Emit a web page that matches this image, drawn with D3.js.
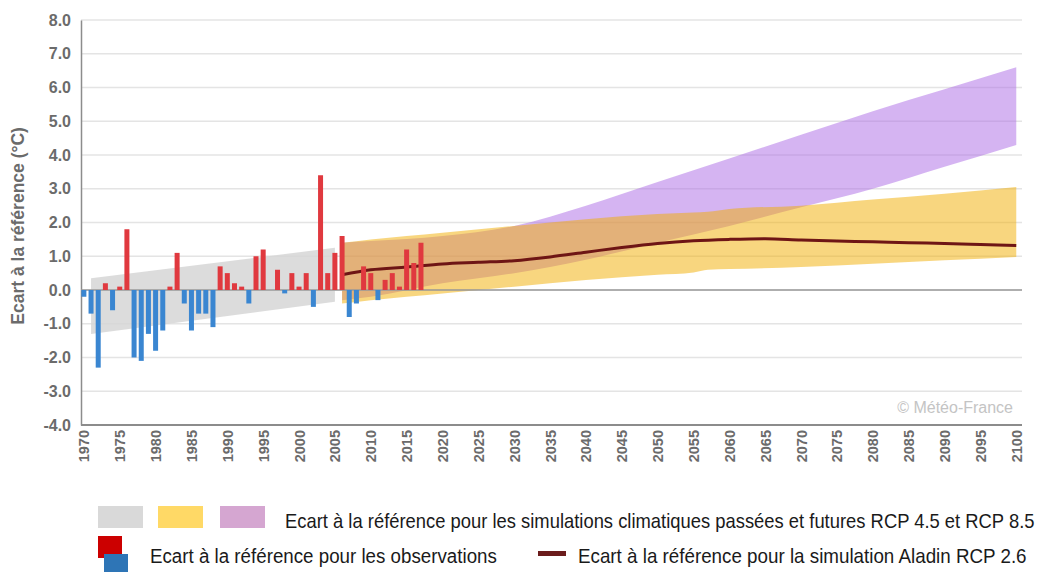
<!DOCTYPE html>
<html lang="fr">
<head>
  <meta charset="UTF-8">
  <title>Ecart à la référence</title>
  <script src="https://d3js.org/d3.v7.min.js"></script>
  <style>
    body { margin: 0; padding: 0; background: #fff; }
    svg { display: block; }
  </style>
</head>
<body>
  <svg id="chart" width="1040" height="572"></svg>
  <script>
    // Observations (écart annuel, °C)
    const obsYears = d3.range(1970, 2018);
    const obsValues = [-0.2, -0.7, -2.3, 0.2, -0.6, 0.1, 1.8, -2.0, -2.1, -1.3,
      -1.8, -1.2, 0.1, 1.1, -0.4, -1.2, -0.7, -0.7, -1.1, 0.7,
      0.5, 0.2, 0.1, -0.4, 1.0, 1.2, 0.0, 0.6, -0.1, 0.5,
      0.1, 0.5, -0.5, 3.4, 0.5, 1.1, 1.6, -0.8, -0.4, 0.7,
      0.5, -0.3, 0.3, 0.5, 0.1, 1.2, 0.8, 1.4];

    // Simulations passées (enveloppe grise)
    const pastYears = [1971, 2005];
    const pastLow = [-1.3, -0.35];
    const pastHigh = [0.35, 1.25];

    // RCP 4.5 (jaune)
    const rcp45Years = [2006, 2010, 2020, 2030, 2040, 2050, 2055, 2057, 2060, 2070, 2080, 2090, 2100];
    const rcp45Low = [-0.4, -0.3, -0.1, 0.1, 0.3, 0.45, 0.52, 0.6, 0.62, 0.68, 0.78, 0.88, 0.98];
    const rcp45High = [1.4, 1.5, 1.7, 1.9, 2.1, 2.25, 2.3, 2.32, 2.4, 2.5, 2.68, 2.85, 3.05];

    // RCP 8.5 (violet)
    const rcp85Years = [2006, 2010, 2020, 2030, 2040, 2050, 2060, 2070, 2080, 2090, 2100];
    const rcp85Low = [-0.3, -0.2, 0.2, 0.5, 0.9, 1.4, 1.9, 2.45, 3.0, 3.65, 4.3];
    const rcp85High = [1.4, 1.45, 1.6, 1.9, 2.5, 3.2, 3.9, 4.6, 5.3, 5.95, 6.6];

    // Simulation Aladin RCP 2.6
    const aladinYears = [2006, 2010, 2015, 2020, 2025, 2030, 2035, 2040, 2045, 2050,
      2055, 2060, 2065, 2070, 2075, 2080, 2085, 2090, 2095, 2100];
    const aladinValues = [0.45, 0.6, 0.68, 0.77, 0.82, 0.87, 0.98, 1.12, 1.26, 1.38,
      1.46, 1.5, 1.52, 1.48, 1.45, 1.43, 1.4, 1.38, 1.35, 1.32];

    const yTicks = d3.range(-4, 8.1, 1);
    const xTicks = d3.range(1970, 2101, 5);

    const svg = d3.select('#chart');
    const plotLeft = 81, plotRight = 1022, plotTop = 20, plotBottom = 425;

    const x = d3.scaleLinear().domain([1969.6, 2100.8]).range([plotLeft, plotRight]);
    const y = d3.scaleLinear().domain([-4, 8]).range([plotBottom, plotTop]);

    const font = 'Arial, "Liberation Sans", sans-serif';
    const axisGrey = '#6b6b6b';

    // grille
    svg.append('g')
      .selectAll('line')
      .data(yTicks.filter(d => d > -4))
      .enter().append('line')
      .attr('x1', plotLeft).attr('x2', plotRight)
      .attr('y1', d => y(d)).attr('y2', d => y(d))
      .attr('stroke', '#e4e4e4')
      .attr('stroke-width', 1.5);

    // axe Y
    const fmt = d => d.toFixed(1);
    const yAxis = svg.append('g')
      .attr('transform', `translate(${plotLeft},0)`)
      .call(d3.axisLeft(y).tickValues(yTicks).tickSize(0).tickPadding(10).tickFormat(fmt));
    yAxis.select('.domain').attr('stroke', '#8c8c8c').attr('stroke-width', 1.5);
    yAxis.selectAll('text')
      .attr('font-family', font).attr('font-size', 16).attr('font-weight', 'bold').attr('fill', axisGrey);

    svg.append('text')
      .attr('transform', `translate(24,${y(1.9)}) rotate(-90)`)
      .attr('text-anchor', 'middle')
      .attr('font-family', font).attr('font-size', 17.5).attr('font-weight', 'bold')
      .attr('fill', axisGrey)
      .text('Ecart à la référence (°C)');

    // enveloppes
    const area = d3.area().x(d => x(d.year)).y0(d => y(d.low)).y1(d => y(d.high));
    const band = (years, low, high) => years.map((yr, i) => ({ year: yr, low: low[i], high: high[i] }));

    svg.append('path')
      .datum(band(pastYears, pastLow, pastHigh))
      .attr('d', area)
      .attr('fill', '#d6d6d6').attr('fill-opacity', 0.85);

    svg.append('path')
      .datum(band(rcp85Years, rcp85Low, rcp85High))
      .attr('d', area.curve(d3.curveMonotoneX))
      .attr('fill', 'rgb(172,106,230)').attr('fill-opacity', 0.5);

    svg.append('path')
      .datum(band(rcp45Years, rcp45Low, rcp45High))
      .attr('d', area.curve(d3.curveMonotoneX))
      .attr('fill', 'rgb(242,174,0)').attr('fill-opacity', 0.5);

    // ligne zéro
    svg.append('line')
      .attr('x1', plotLeft).attr('x2', plotRight)
      .attr('y1', y(0)).attr('y2', y(0))
      .attr('stroke', '#9a9a9a').attr('stroke-width', 1.5);

    // Aladin
    const line = d3.line().x((d, i) => x(aladinYears[i])).y(d => y(d)).curve(d3.curveMonotoneX);
    svg.append('path')
      .datum(aladinValues)
      .attr('d', line)
      .attr('fill', 'none')
      .attr('stroke', '#6e1515').attr('stroke-width', 3);

    // barres observations
    const barW = 5;
    svg.append('g')
      .selectAll('rect')
      .data(obsValues)
      .enter().append('rect')
      .attr('x', (d, i) => x(obsYears[i]) - barW / 2)
      .attr('y', d => y(Math.max(0, d)))
      .attr('width', barW)
      .attr('height', d => Math.abs(y(d) - y(0)))
      .attr('fill', d => d >= 0 ? '#e0393f' : '#3a86d1');

    // axe X
    svg.append('line')
      .attr('x1', plotLeft).attr('x2', plotRight)
      .attr('y1', plotBottom).attr('y2', plotBottom)
      .attr('stroke', '#8c8c8c').attr('stroke-width', 2);

    svg.append('g')
      .selectAll('text')
      .data(xTicks)
      .enter().append('text')
      .attr('transform', d => `translate(${x(d) + 5.5},430) rotate(-90)`)
      .attr('text-anchor', 'end')
      .attr('font-family', font).attr('font-size', 14.5).attr('font-weight', 'bold')
      .attr('fill', axisGrey)
      .text(d => d);

    // filigrane
    svg.append('text')
      .attr('x', 1013).attr('y', 413)
      .attr('text-anchor', 'end')
      .attr('font-family', font).attr('font-size', 16)
      .attr('fill', '#c4c4c4')
      .text('© Météo-France');

    // légende (texte condensé : mis à l'échelle horizontalement)
    const legFont = '"Liberation Sans Narrow", "Arial Narrow", "Liberation Sans", sans-serif';
    const lg = svg.append('g');
    const legendText = (tx, ty, width, label) => {
      const t = lg.append('text')
        .attr('font-family', legFont).attr('font-size', 20).attr('fill', '#1a1a1a')
        .text(label);
      const natural = t.node().getComputedTextLength();
      t.attr('transform', `translate(${tx},${ty}) scale(${width / natural},1)`);
    };

    [['#d9d9d9', 98], ['#ffd966', 158], ['#d5a6d1', 220]].forEach(([c, lx]) => {
      lg.append('rect').attr('x', lx).attr('y', 506).attr('width', 45).attr('height', 22).attr('fill', c);
    });
    legendText(285, 528, 750, 'Ecart à la référence pour les simulations climatiques passées et futures RCP 4.5 et RCP 8.5');

    lg.append('rect').attr('x', 98).attr('y', 536).attr('width', 24).attr('height', 22).attr('fill', '#cc0000');
    lg.append('rect').attr('x', 104).attr('y', 554).attr('width', 24).attr('height', 18).attr('fill', '#2e75b6');
    legendText(150, 563, 347, 'Ecart à la référence pour les observations');

    lg.append('rect').attr('x', 538).attr('y', 551).attr('width', 28).attr('height', 5).attr('fill', '#6b1c1c');
    legendText(578, 563, 449, 'Ecart à la référence pour la simulation Aladin RCP 2.6');
  </script>
</body>
</html>
